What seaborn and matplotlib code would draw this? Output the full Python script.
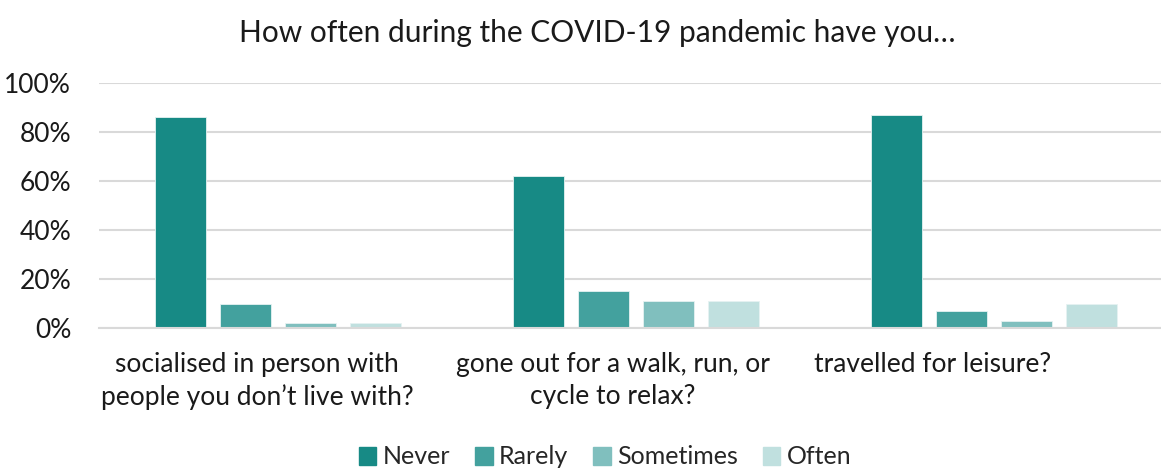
import numpy as np
import pandas as pd
import matplotlib
matplotlib.use("Agg")
import matplotlib.pyplot as plt
import matplotlib.transforms as mtransforms
import seaborn as sns

# data (percent of respondents)
questions = [
    "socialised in person with\npeople you don\u2019t live with?",
    "gone out for a walk, run, or\ncycle to relax?",
    "travelled for leisure?",
]
answers = ["Never", "Rarely", "Sometimes", "Often"]
never = [86, 62, 87]
rarely = [10, 15, 7]
sometimes = [2, 11, 3]
often = [2, 11, 10]
colors = ["#178a85", "#43a19e", "#80bfbe", "#c0e0df"]

rows = []
for ans, vals in zip(answers, [never, rarely, sometimes, often]):
    for q, v in zip(questions, vals):
        rows.append({"question": q, "answer": ans, "pct": v})
df = pd.DataFrame(rows)

sns.set_theme(style="white")
plt.rcParams["font.family"] = ["Lato", "DejaVu Sans"]

W, H = 1161, 468
fig = plt.figure(figsize=(W / 100, H / 100), dpi=100)
# plot area runs slightly past the right edge of the image, like the reference
ax = fig.add_axes([99 / W, 1 - 328 / H, 1074 / W, (328 - 83) / H])

sns.barplot(data=df, x="question", y="pct", hue="answer", order=questions,
            hue_order=answers, palette=colors, width=0.726, gap=0.215,
            edgecolor="#e6f2f2", linewidth=0.6, saturation=1, ax=ax)

ax.set_ylim(0, 100)
ax.set_xlim(-0.5, 2.5)
ax.set_yticks([0, 20, 40, 60, 80, 100])
ax.set_yticklabels([f"{t}%" for t in [0, 20, 40, 60, 80, 100]], fontsize=19, color="#1a1a1a")
ax.yaxis.grid(True, color="#d9d9d9", linewidth=1.5)
ax.set_axisbelow(True)
for s in ["top", "right", "left"]:
    ax.spines[s].set_visible(False)
ax.spines["bottom"].set_color("#d9d9d9")
ax.spines["bottom"].set_linewidth(1.5)
ax.tick_params(axis="both", length=0)
ax.tick_params(axis="y", pad=20)
ax.tick_params(axis="x", pad=17)
ax.set_xlabel("")
ax.set_ylabel("")

# excel places the wrapped labels left of the category centre
shifts = [-21, -23, -61]
for lbl, dx in zip(ax.get_xticklabels(), shifts):
    lbl.set_fontsize(19)
    lbl.set_color("#1a1a1a")
    lbl.set_linespacing(1.35)
    lbl.set_transform(lbl.get_transform() + mtransforms.ScaledTranslation(dx / 100, 0, fig.dpi_scale_trans))

fig.suptitle("How often during the COVID-19 pandemic have you\u2026", fontsize=21.5,
             color="#1a1a1a", x=597 / W, y=1 - 33 / H, va="center")

ax.legend_.remove()
handles = [plt.Rectangle((0, 0), 1, 1, color=c) for c in colors]
fig.legend(handles, answers, loc="center", bbox_to_anchor=(605 / W, 1 - 457 / H),
           ncol=4, frameon=False, fontsize=18, handlelength=0.7, handleheight=0.7,
           handletextpad=0.25, columnspacing=1.0, borderaxespad=0)

fig.savefig("out.png", dpi=100)
